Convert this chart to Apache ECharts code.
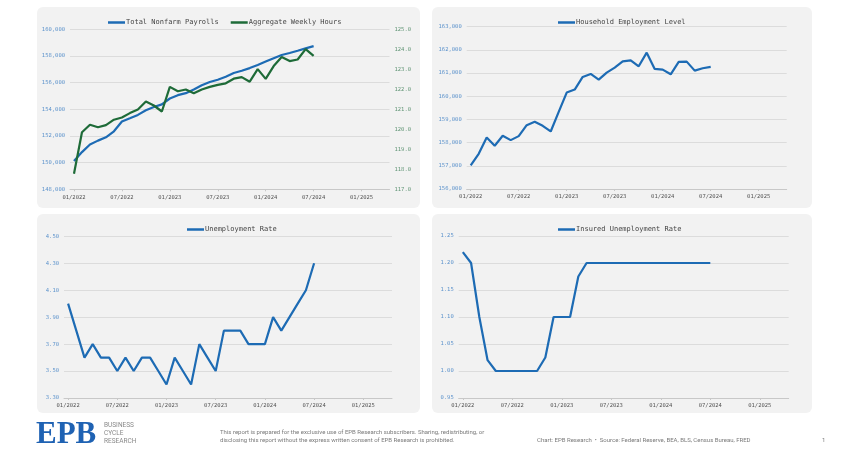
<!DOCTYPE html>
<html><head><meta charset="utf-8">
<script src="https://cdn.jsdelivr.net/npm/echarts@6/dist/echarts.min.js"></script>
<style>html,body{margin:0;padding:0;background:#fff;}#c{width:850px;height:475px;}</style>
</head><body><div id="c"></div>
<script>
const months = ['2022-01','2022-02','2022-03','2022-04','2022-05','2022-06','2022-07','2022-08','2022-09','2022-10','2022-11','2022-12',
'2023-01','2023-02','2023-03','2023-04','2023-05','2023-06','2023-07','2023-08','2023-09','2023-10','2023-11','2023-12',
'2024-01','2024-02','2024-03','2024-04','2024-05','2024-06','2024-07','2024-08','2024-09','2024-10','2024-11','2024-12',
'2025-01','2025-02','2025-03','2025-04'];
const payrolls = [150120,150790,151360,151650,151900,152350,153090,153330,153580,153930,154170,154370,154810,155060,155210,155480,155800,156050,156220,156440,156720,156890,157090,157330,157580,157830,158070,158220,158390,158570,158740];
const weeklyHours = [117.78,119.85,120.23,120.10,120.21,120.48,120.59,120.81,120.99,121.39,121.19,120.89,122.12,121.90,121.99,121.80,121.99,122.12,122.22,122.30,122.53,122.61,122.38,123.01,122.52,123.16,123.61,123.41,123.49,124.01,123.67];
const household = [157017,157519,158222,157864,158294,158108,158280,158753,158897,158725,158481,159327,160159,160288,160834,160963,160719,161020,161235,161508,161551,161293,161881,161178,161149,160948,161479,161494,161106,161207,161264];
const unemploymentRate = [4.0,3.8,3.6,3.7,3.6,3.6,3.5,3.6,3.5,3.6,3.6,3.5,3.4,3.6,3.5,3.4,3.7,3.6,3.5,3.8,3.8,3.8,3.7,3.7,3.7,3.9,3.8,3.9,4.0,4.1,4.3];
const insuredRate = [1.22,1.20,1.10,1.02,1.00,1.00,1.00,1.00,1.00,1.00,1.025,1.10,1.10,1.10,1.175,1.20,1.20,1.20,1.20,1.20,1.20,1.20,1.20,1.20,1.20,1.20,1.20,1.20,1.20,1.20,1.20];
const urTicks = ['3.30','3.50','3.70','3.90','4.10','4.30','4.50'];

const BLUE = '#1d6bb4', GREEN = '#1e6b38';
const MONO = '"DejaVu Sans Mono", "Liberation Mono", monospace';
const fmtMonth = v => { const p = v.split('-'); return p[1] + '/' + p[0]; };

function xAxis(gi) {
  return {
    type: 'category', gridIndex: gi, data: months, boundaryGap: true,
    axisLine: { lineStyle: { color: '#c8c8c8', width: 1 } },
    axisTick: { show: true, interval: 5, alignWithLabel: true, length: 2, lineStyle: { color: '#c8c8c8' } },
    axisLabel: { interval: 5, formatter: fmtMonth, color: '#555', fontFamily: MONO, fontSize: 5.5, margin: 5 },
    splitLine: { show: false }
  };
}
function yAxis(gi, o) {
  return Object.assign({
    type: 'value', gridIndex: gi, scale: true,
    axisLine: { show: false }, axisTick: { show: false },
    splitLine: { lineStyle: { color: '#dcdcdc', width: 1 } },
    axisLabel: { color: '#5d93cc', fontFamily: MONO, fontSize: 5.5, margin: 5 }
  }, o);
}
const lineSeries = (name, xi, yi, data, color) => ({
  name, type: 'line', xAxisIndex: xi, yAxisIndex: yi, data, symbol: 'none',
  lineStyle: { color, width: 2.2 }, itemStyle: { color }, animation: false
});
const legendBase = { icon: 'rect', itemWidth: 17, itemHeight: 2.5, itemGap: 12,
  textStyle: { color: '#444', fontFamily: MONO, fontSize: 7, padding: [0, 0, 0, -4] } };

const panels = [[37, 7, 383, 201], [432, 7, 380, 201], [37, 214, 383, 199], [432, 214, 380, 199]];
const graphics = panels.map(p => ({ type: 'rect', z: -10, shape: { x: p[0], y: p[1], width: p[2], height: p[3], r: 6 }, style: { fill: '#f2f2f2' } }));
const foot = { fontFamily: 'Roboto, "Liberation Sans", sans-serif', fill: '#7a7a7a' };
graphics.push(
  { type: 'text', x: 36, y: 419, style: { text: 'EPB', font: 'bold 31px "Liberation Serif", "DejaVu Serif", serif', fill: '#1f62b3' } },
  { type: 'text', x: 104, y: 422, style: Object.assign({ text: 'BUSINESS\nCYCLE\nRESEARCH', fontSize: 6.5, lineHeight: 7.7 }, foot, { fill: '#8a8a8a' }) },
  { type: 'text', x: 220, y: 429, style: Object.assign({ text: 'This report is prepared for the exclusive use of EPB Research subscribers. Sharing, redistributing, or\ndisclosing this report without the express written consent of EPB Research is prohibited.', fontSize: 6, lineHeight: 7.8 }, foot) },
  { type: 'text', x: 537, y: 437, style: Object.assign({ text: 'Chart: EPB Research  \u2022  Source: Federal Reserve, BEA, BLS, Census Bureau, FRED', fontSize: 6 }, foot) },
  { type: 'text', x: 822, y: 437, style: Object.assign({ text: '1', fontSize: 6 }, foot) }
);

const option = {
  backgroundColor: '#ffffff',
  animation: false,
  graphic: graphics,
  grid: [
    { left: 70, top: 29.3, width: 319.5, height: 160 },
    { left: 466.7, top: 26.7, width: 320, height: 162.3 },
    { left: 64, top: 236.3, width: 328, height: 161.7 },
    { left: 458.7, top: 236, width: 330, height: 162 }
  ],
  legend: [
    Object.assign({}, legendBase, { data: ['Total Nonfarm Payrolls', 'Aggregate Weekly Hours'], left: 103, top: 14 }),
    Object.assign({}, legendBase, { data: ['Household Employment Level'], left: 553, top: 14 }),
    Object.assign({}, legendBase, { data: ['Unemployment Rate'], left: 182, top: 221 }),
    Object.assign({}, legendBase, { data: ['Insured Unemployment Rate'], left: 553, top: 221 })
  ],
  xAxis: [xAxis(0), xAxis(1), xAxis(2), xAxis(3)],
  yAxis: [
    yAxis(0, { min: 148000, max: 160000, interval: 2000, axisLabel: { color: '#5d93cc', fontFamily: MONO, fontSize: 5.5, margin: 5, formatter: v => v.toLocaleString('en-US') } }),
    yAxis(0, { position: 'right', min: 117, max: 125, interval: 1, splitLine: { show: false }, axisLabel: { color: '#5f9474', fontFamily: MONO, fontSize: 5.5, margin: 5, formatter: v => v.toFixed(1) } }),
    yAxis(1, { min: 156000, max: 163000, interval: 1000, axisLabel: { color: '#5d93cc', fontFamily: MONO, fontSize: 5.5, margin: 5, formatter: v => v.toLocaleString('en-US') } }),
    yAxis(2, { min: 0, max: 6, interval: 1, axisLabel: { color: '#5d93cc', fontFamily: MONO, fontSize: 5.5, margin: 5, formatter: v => urTicks[v] } }),
    yAxis(2, { min: 3.3, max: 4.5, show: false, splitLine: { show: false } }),
    yAxis(3, { min: 0.95, max: 1.25, interval: 0.05, axisLabel: { color: '#5d93cc', fontFamily: MONO, fontSize: 5.5, margin: 5, formatter: v => v.toFixed(2) } })
  ],
  series: [
    lineSeries('Total Nonfarm Payrolls', 0, 0, payrolls, BLUE),
    lineSeries('Aggregate Weekly Hours', 0, 1, weeklyHours, GREEN),
    lineSeries('Household Employment Level', 1, 2, household, BLUE),
    lineSeries('Unemployment Rate', 2, 4, unemploymentRate, BLUE),
    lineSeries('Insured Unemployment Rate', 3, 5, insuredRate, BLUE)
  ]
};
const chart = echarts.init(document.getElementById('c'), null, { renderer: 'canvas' });
chart.setOption(option);
</script></body></html>
